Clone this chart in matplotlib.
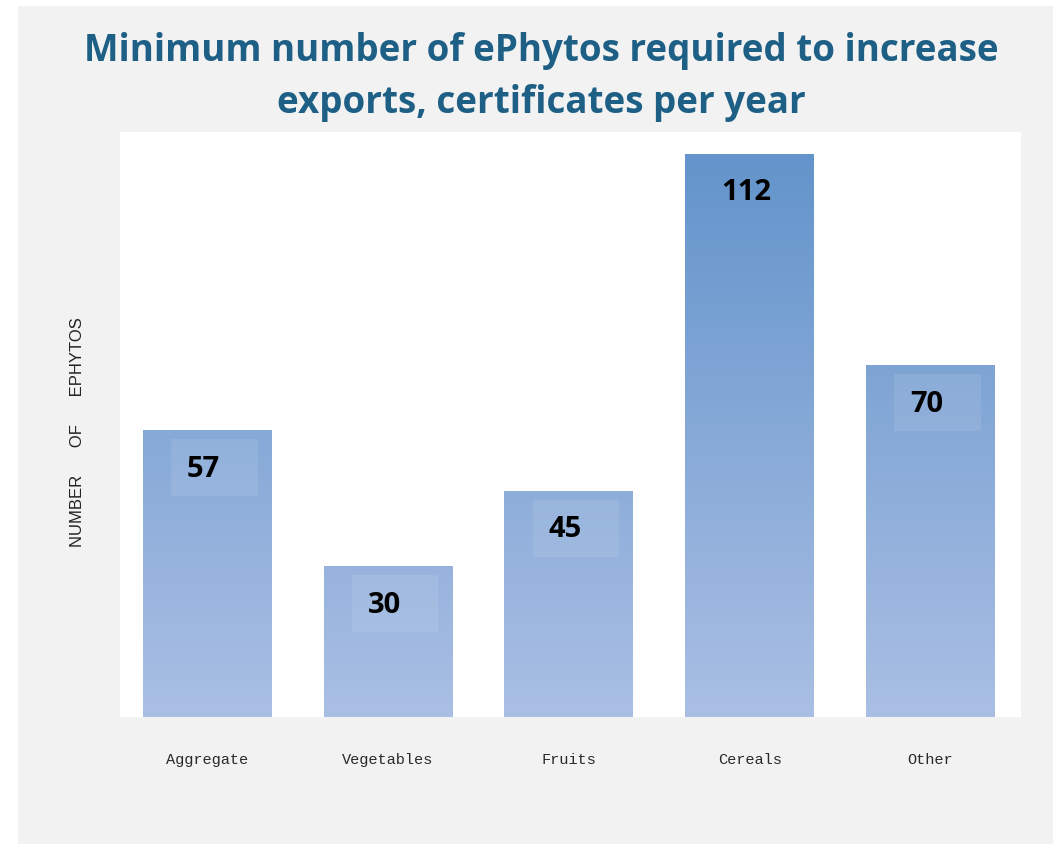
import numpy as np
import matplotlib.pyplot as plt
from matplotlib.patches import Rectangle
from matplotlib.colors import LinearSegmentedColormap

categories = ['Aggregate', 'Vegetables', 'Fruits', 'Cereals', 'Other']
values = [57, 30, 45, 112, 70]
title = 'Minimum number of ePhytos required to increase\nexports, certificates per year'
ylabel = 'NUMBER      OF      EPHYTOS'

W, H = 1053, 845
fig = plt.figure(figsize=(W / 100, H / 100), dpi=100)
fig.patch.set_facecolor('white')
# grey panel behind everything
fig.patches.append(Rectangle((18 / W, 0), 1 - 18 / W, 1 - 7 / H, transform=fig.transFigure,
                             facecolor='#f2f2f2', edgecolor='none', zorder=-5))

ax = fig.add_axes([120 / W, 1 - 718 / H, 901 / W, 585 / H])
ax.set_facecolor('white')
ymax = 116.3
px_per_unit = 585 / ymax

# vertical gradient shared by all bars (darker at top)
cmap = LinearSegmentedColormap.from_list('bars', ['#aabfe4', '#6394cb'])
grad = np.linspace(0, 1, 256).reshape(-1, 1)
x = np.arange(len(categories))
bars = ax.bar(x, values, width=0.71, color='none', edgecolor='none')
for b in bars:
    im = ax.imshow(grad, cmap=cmap, origin='lower', aspect='auto',
                   extent=[-0.48, 4.5, 0, 112], zorder=1)
    im.set_clip_path(b)
ax.set_xlim(-0.48, 4.5)
ax.set_ylim(0, ymax)

# value labels sitting on a faint lighter box just under the bar top
for xi, v in zip(x, values):
    if v != max(values):
        # box: 9 px below the top, 57 px tall
        ax.add_patch(Rectangle((xi - 0.2, v - 66 / px_per_unit), 0.48, 57 / px_per_unit,
                               facecolor='white', alpha=0.09, edgecolor='none', zorder=2))
    ax.annotate(str(v), xy=(xi - 0.02, v), xytext=(0, -27.5), textcoords='offset points',
                ha='center', va='center', fontsize=21, fontweight='bold',
                family='Open Sans', color='black', zorder=3)

ax.set_xticks(x)
ax.set_xticklabels(categories, family='Liberation Mono', fontsize=11, color='#2a2a2a')
ax.tick_params(axis='x', length=0, pad=25)
ax.set_yticks([])
for s in ax.spines.values():
    s.set_visible(False)

fig.text(77 / W, 1 - 432 / H, ylabel, rotation=90, ha='center', va='center',
         fontsize=12, family='Liberation Sans', color='#222222')

fig.text(541 / W, 1 - 77 / H, title, ha='center', va='center', fontsize=26.5,
         fontweight='bold', family='Open Sans', color='#1e5f86', linespacing=1.45)

plt.savefig('out.png', dpi=100)
